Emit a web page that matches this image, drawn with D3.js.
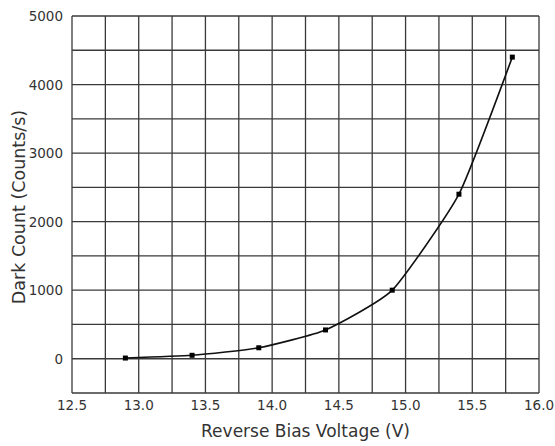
<!DOCTYPE html>
<html>
<head>
<meta charset="utf-8">
<script src="https://cdn.jsdelivr.net/npm/d3@7"></script>
<style>
  body { margin: 0; background: #fff; }
  text { font-family: "DejaVu Sans", sans-serif; fill: #333; }
</style>
</head>
<body>
<div id="chart"></div>
<script>
// data
var voltage = [12.9, 13.4, 13.9, 14.4, 14.9, 15.4, 15.8];
var darkCount = [10, 50, 160, 420, 1000, 2400, 4400];
var xTicks = [12.5, 13.0, 13.5, 14.0, 14.5, 15.0, 15.5, 16.0];
var yTicks = [0, 1000, 2000, 3000, 4000, 5000];

var W = 555, H = 446;
var m = {left: 72, right: 16, top: 16, bottom: 53};

var svg = d3.select('#chart').append('svg').attr('width', W).attr('height', H);

var x = d3.scaleLinear().domain([12.5, 16.0]).range([m.left, W - m.right]);
var y = d3.scaleLinear().domain([-500, 5000]).range([H - m.bottom, m.top]);

// grid
var grid = svg.append('g').attr('stroke', '#3a3a3a').attr('stroke-width', 1.3);
grid.selectAll('.vx').data(d3.range(12.5, 16.01, 0.25)).enter().append('line')
    .attr('x1', function(d){ return x(d); }).attr('x2', function(d){ return x(d); })
    .attr('y1', y(-500)).attr('y2', y(5000));
grid.selectAll('.hy').data(d3.range(-500, 5001, 500)).enter().append('line')
    .attr('y1', function(d){ return y(d); }).attr('y2', function(d){ return y(d); })
    .attr('x1', x(12.5)).attr('x2', x(16.0));

// tick labels
svg.append('g').selectAll('text').data(xTicks).enter().append('text')
    .attr('x', function(d){ return x(d); }).attr('y', y(-500) + 17)
    .attr('text-anchor', 'middle').attr('font-size', 13.5)
    .text(function(d){ return d.toFixed(1); });

svg.append('g').selectAll('text').data(yTicks).enter().append('text')
    .attr('x', m.left - 9).attr('y', function(d){ return y(d) + 5; })
    .attr('text-anchor', 'end').attr('font-size', 13.5)
    .text(function(d){ return d; });

// axis titles
svg.append('text').attr('x', (x(12.5) + x(16.0)) / 2).attr('y', 437)
    .attr('text-anchor', 'middle').attr('font-size', 17)
    .text('Reverse Bias Voltage (V)');
svg.append('text').attr('transform', 'translate(25,207) rotate(-90)')
    .attr('text-anchor', 'middle').attr('font-size', 17.5)
    .text('Dark Count (Counts/s)');

// series
var pts = voltage.map(function(v, i){ return [v, darkCount[i]]; });
var line = d3.line()
    .x(function(d){ return x(d[0]); })
    .y(function(d){ return y(d[1]); })
    .curve(d3.curveCardinal.tension(0.5));
svg.append('path').datum(pts).attr('d', line)
    .attr('fill', 'none').attr('stroke', '#111').attr('stroke-width', 1.6);
svg.append('g').selectAll('rect').data(pts).enter().append('rect')
    .attr('x', function(d){ return x(d[0]) - 2.5; })
    .attr('y', function(d){ return y(d[1]) - 2.5; })
    .attr('width', 5).attr('height', 5).attr('fill', '#000');
</script>
</body>
</html>
